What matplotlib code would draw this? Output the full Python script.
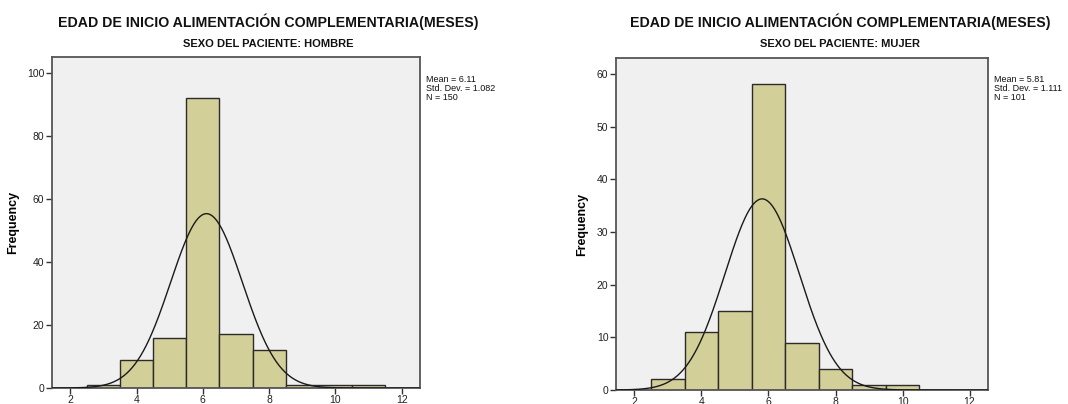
#!/usr/bin/env python3
"""
Histogram of age at start of complementary feeding (months), by patient sex,
with fitted normal curve, in the SPSS style.
"""

import numpy as np
import matplotlib.pyplot as plt

# bin centres shared by both panels (bins of width 1)
bin_centres = [3, 4, 5, 6, 7, 8, 9, 10, 11]

hombre_counts = [1, 9, 16, 92, 17, 12, 1, 1, 1]
mujer_counts = [2, 11, 15, 58, 9, 4, 1, 1, 0]

hombre_stats = {"mean": 6.11, "sd": 1.082, "n": 150}
mujer_stats = {"mean": 5.81, "sd": 1.111, "n": 101}

title = "EDAD DE INICIO ALIMENTACIÓN COMPLEMENTARIA(MESES)"
subtitles = ["SEXO DEL PACIENTE: HOMBRE", "SEXO DEL PACIENTE: MUJER"]
x_ticks = [2, 4, 6, 8, 10, 12]
hombre_yticks = [0, 20, 40, 60, 80, 100]
mujer_yticks = [0, 10, 20, 30, 40, 50, 60]

W, H = 1068, 404
BAR = "#d3cf98"
BG = "#f0f0f0"

plt.rcParams["font.family"] = ["Liberation Sans", "DejaVu Sans"]

fig = plt.figure(figsize=(W / 100, H / 100), dpi=100)


def add_panel(px_left, px_right, px_top, px_bottom, counts, stats, yticks,
              ymax, subtitle, title_x, stats_x):
    ax = fig.add_axes([px_left / W, 1 - px_bottom / H,
                       (px_right - px_left) / W, (px_bottom - px_top) / H])
    ax.set_facecolor(BG)
    ax.bar(bin_centres, counts, width=1.0, color=BAR, edgecolor="#2b2b2b",
           linewidth=1.0, zorder=2)

    xs = np.linspace(1.45, 12.55, 400)
    dens = stats["n"] / (stats["sd"] * np.sqrt(2 * np.pi)) * \
        np.exp(-0.5 * ((xs - stats["mean"]) / stats["sd"]) ** 2)
    ax.plot(xs, dens, color="#1a1a1a", linewidth=1.0, zorder=3)

    ax.set_xlim(1.45, 12.55)
    ax.set_ylim(0, ymax)
    ax.set_xticks(x_ticks)
    ax.set_yticks(yticks)
    ax.tick_params(axis="both", direction="out", length=4, width=1,
                   color="#333333", labelsize=7.5, labelcolor="#222222", pad=1.5)
    ax.tick_params(axis="x", pad=1)
    ax.tick_params(top=False, right=False)
    for s in ax.spines.values():
        s.set_color("#555555")
        s.set_linewidth(1.3)

    ax.set_ylabel("Frequency", fontsize=9, fontweight="bold", labelpad=6)

    fig.text(title_x / W, 1 - 22 / H, title, ha="center", va="center",
             fontsize=10.2, fontweight="bold", color="#111111")
    fig.text(title_x / W, 1 - 44 / H, subtitle, ha="center", va="center",
             fontsize=8, fontweight="bold", color="#111111")
    txt = (f"Mean = {stats['mean']:.2f}\n"
           f"Std. Dev. = {stats['sd']:.3f}\n"
           f"N = {stats['n']}")
    fig.text(stats_x / W, 1 - 75 / H, txt, ha="left", va="top",
             fontsize=6.5, color="#111111", linespacing=1.0)
    return ax


add_panel(52, 420, 57, 388, hombre_counts, hombre_stats, hombre_yticks,
          105, subtitles[0], 268, 426)
add_panel(616, 988, 58, 390, mujer_counts, mujer_stats, mujer_yticks,
          63, subtitles[1], 840, 994)

fig.savefig("out.png", dpi=100)
